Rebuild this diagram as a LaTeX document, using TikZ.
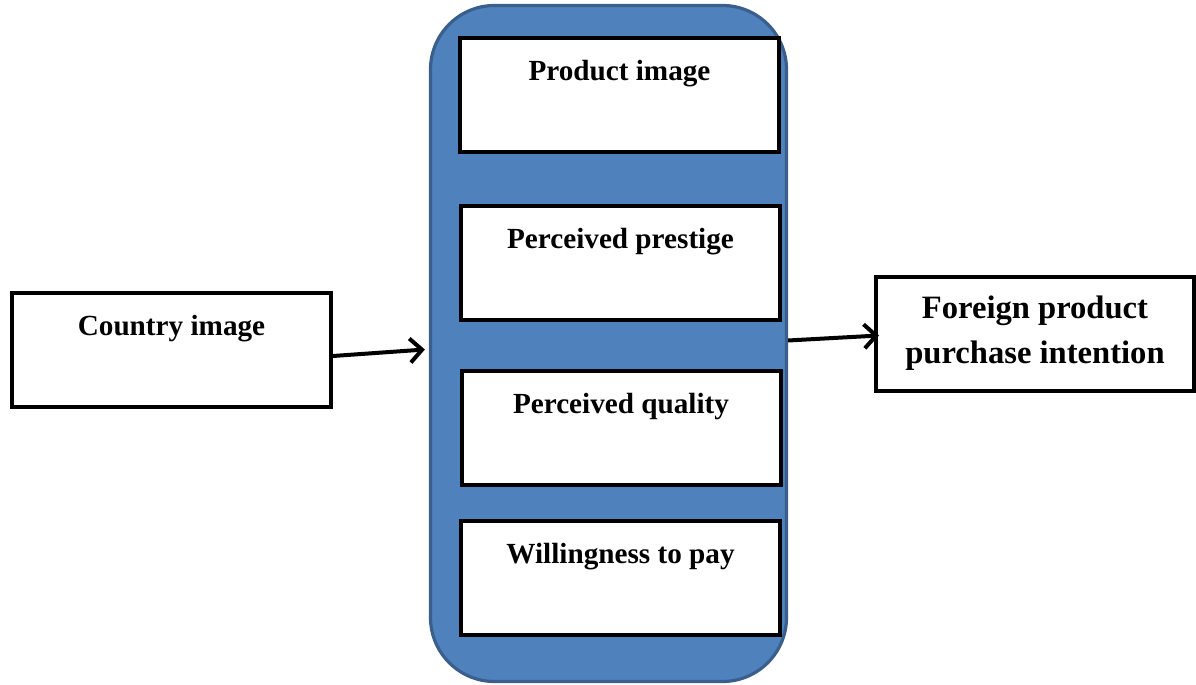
\documentclass[tikz,border=0pt]{standalone}
\usepackage{fontspec}
\setmainfont{Liberation Serif}
\usetikzlibrary{positioning}
\usetikzlibrary{arrows.meta, calc}
\definecolor{panelblue}{HTML}{4F81BD}
\definecolor{paneledge}{HTML}{3A5F8D}
\tikzstyle{panel} = [draw=paneledge, line width=1.6pt, fill=panelblue, rounded corners=32pt, minimum width=178pt, minimum height=338pt]
\tikzstyle{factor} = [draw=black, line width=2pt, fill=white, anchor=north, minimum width=159.5pt, inner ysep=0pt, text height=21pt, text depth=36pt, font=\fontsize{14.6}{17}\selectfont\bfseries]
\tikzstyle{outcome} = [draw=black, line width=2pt, fill=white, minimum width=159pt, minimum height=57pt, align=center, font=\fontsize{16.3}{22.5}\selectfont\bfseries]
\tikzstyle{link} = [line width=2pt, -{Straight Barb[length=6pt, width=12pt]}]

\begin{document}
\begin{tikzpicture}[x=0.5pt, y=-0.5pt]
      \useasboundingbox (0,0) rectangle (1196,685);
      % mediating block
      \node (panel) [panel] at (608.5,343.5) {};
      \node (pimage) [factor] at (619.5,36) {Product image};
      \node (prestige) [factor] at (620.5,204) {Perceived prestige};
      \node (quality) [factor] at (621,369) {Perceived quality};
      \node (pay) [factor] at (620.5,519) {Willingness to pay};
      % left and right
      \node (country) [factor] at (171.5,291) {Country image};
      \node (foreign) [outcome] at (1035,333.5) {Foreign product\\purchase intention};
      %%%%%%%%%%%%%%%%%%%%%%%%%%%%%%%%%%%%%%%
      \draw[link] ([yshift=-3pt]country.east) -- ([xshift=-2pt, yshift=-3pt]panel.west);
      \draw[link] ([yshift=1.5pt]panel.east) -- ([xshift=2.5pt, yshift=-1pt]foreign.west);
\end{tikzpicture}
\end{document}
